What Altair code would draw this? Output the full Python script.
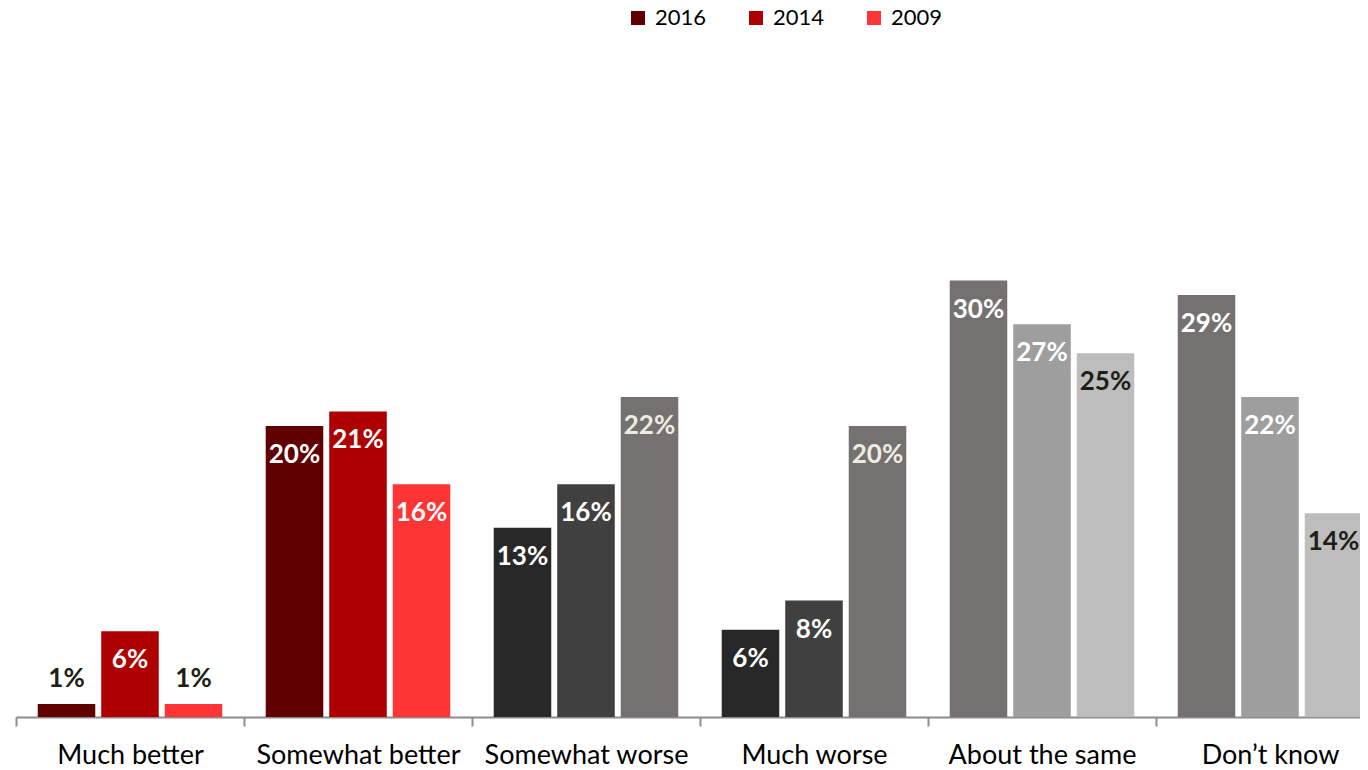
import altair as alt
import pandas as pd

categories = ["Much better", "Somewhat better", "Somewhat worse",
              "Much worse", "About the same", "Don\u2019t know"]
years = ["2016", "2014", "2009"]
values_2016 = [0.9, 20, 13, 6, 30, 29]
values_2014 = [5.9, 21, 16, 8, 27, 22]
values_2009 = [0.9, 16, 22, 20, 25, 14]

# styles
legend_colors = ["#600000", "#ae0000", "#ff3535"]
reds = ["#600000", "#ae0000", "#ff3535"]
darks = ["#282828", "#404040", "#767171"]
greys = ["#767171", "#9e9e9e", "#bdbdbd"]
bar_colors = [reds, reds, darks, darks, greys, greys]
W, C, D = "#ffffff", "#eeece1", "#1e1e16"
label_colors = [[D, W, D], [W, W, W], [W, W, C], [W, W, C], [W, W, D], [W, W, D]]

series = {"2016": values_2016, "2014": values_2014, "2009": values_2009}
rows = []
for ci, cat in enumerate(categories):
    for yi, yr in enumerate(years):
        rows.append({
            "category": cat,
            "year": yr,
            "value": series[yr][ci],
            "bar_color": bar_colors[ci][yi],
            "label_color": label_colors[ci][yi],
        })
df = pd.DataFrame(rows)

FONT = "Lato"

x_enc = alt.X(
    "category:N", sort=categories,
    scale=alt.Scale(range=[0, 1368], paddingInner=0, paddingOuter=0),
    axis=alt.Axis(title=None, labelAngle=0, labelFont=FONT, labelFontSize=27,
                  labelColor="#000000", labelPadding=16, labelLimit=400,
                  tickBand="extent", tickSize=9, tickColor="#8c8c8c", tickWidth=2,
                  domainColor="#8c8c8c", domainWidth=2, grid=False),
)
xo_enc = alt.XOffset("year:N", sort=years,
                     scale=alt.Scale(paddingInner=0.094, paddingOuter=0.342))
y_enc = alt.Y("value:Q", scale=alt.Scale(domain=[0, 40], nice=False), axis=None)

base = alt.Chart(df)

bars = base.mark_bar().encode(
    x=x_enc, xOffset=xo_enc, y=y_enc,
    fill=alt.Fill("bar_color:N", scale=None),
)

labels_in = base.transform_filter("datum.value >= 3").transform_calculate(
    label="format(datum.value, '.0f') + '%'"
).mark_text(font=FONT, fontWeight="bold", fontSize=26, baseline="middle", dy=29).encode(
    x=x_enc, xOffset=xo_enc, y=y_enc,
    text="label:N",
    color=alt.Color("label_color:N", scale=None),
)

labels_out = base.transform_filter("datum.value < 3").transform_calculate(
    label="format(datum.value, '.0f') + '%'"
).mark_text(font=FONT, fontWeight="bold", fontSize=26, baseline="middle", dy=-25).encode(
    x=x_enc, xOffset=xo_enc, y=y_enc,
    text="label:N",
    color=alt.Color("label_color:N", scale=None),
)

legend_layer = base.mark_square(opacity=0).encode(
    x=x_enc, xOffset=xo_enc, y=y_enc,
    color=alt.Color(
        "year:N",
        scale=alt.Scale(domain=years, range=legend_colors),
        legend=alt.Legend(
            title=None, orient="none", direction="horizontal",
            legendX=611, legendY=-128, padding=0,
            symbolType="square", symbolSize=196, symbolOpacity=1,
            symbolStrokeWidth=0, labelFont=FONT, labelFontSize=22,
            labelColor="#000000", labelOffset=6, columnPadding=38,
        ),
    ),
)

chart = alt.layer(bars, labels_in, labels_out, legend_layer).properties(
    width=1344, height=582,
    padding={"left": 8, "top": 127, "right": 0, "bottom": 62},
    autosize=alt.AutoSizeParams(type="none"),
).configure_view(strokeWidth=0)

chart.save("out.html", embed_options={"renderer": "svg", "actions": False})
